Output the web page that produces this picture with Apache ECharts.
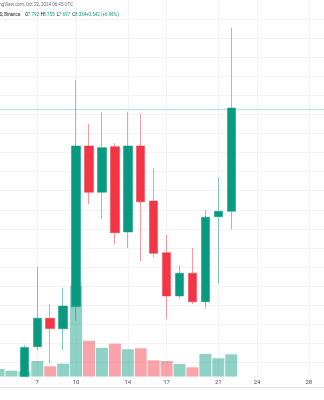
<!DOCTYPE html>
<html><head><meta charset="utf-8">
<script src="https://cdn.jsdelivr.net/npm/echarts@6/dist/echarts.min.js"></script>
<style>html,body{margin:0;padding:0;background:#fff;overflow:hidden}#c{position:absolute;left:-15px;top:0;width:350px;height:400px}</style>
</head><body><div id="c"></div>
<script>
// Days of October 2024 (3 and 23-30 are empty padding slots)
const days = ['3','4','5','6','7','8','9','10','11','12','13','14','15','16','17','18','19','20','21','22','23','24','25','26','27','28','29','30'];
const tickDays = ['7','10','14','17','21','24','28'];
// [open, close, low, high]
const ohlc = [
  '-',
  [6.62, 6.71, 6.55, 6.78],
  [6.71, 6.80, 6.66, 6.86],
  [6.80, 7.078, 6.77, 7.090],
  [7.082, 7.231, 7.064, 7.501],
  [7.231, 7.177, 6.995, 7.306],
  [7.176, 7.295, 7.064, 7.391],
  [7.292, 8.135, 7.218, 8.481],
  [8.135, 7.892, 7.830, 8.250],
  [7.892, 8.126, 7.753, 8.312],
  [8.131, 7.680, 7.620, 8.149],
  [7.684, 8.135, 7.600, 8.315],
  [8.135, 7.842, 7.530, 8.303],
  [7.846, 7.572, 7.551, 8.018],
  [7.575, 7.348, 7.226, 7.668],
  [7.348, 7.467, 7.334, 7.510],
  [7.467, 7.318, 7.306, 7.600],
  [7.318, 7.761, 7.281, 7.799],
  [7.764, 7.792, 7.411, 7.971],
  [7.792, 8.334, 7.697, 8.755],
  '-','-','-','-','-','-','-','-'
];
// volume (millions)
const volume = ['-', 1.54, 1.2, 1.04, 3.14, 2.08, 2.6, 18.2, 7.2, 5.74, 6.6, 5.48, 5.68, 3.28, 3.14, 2.54, 1.88, 4.54, 3.68, 4.48, '-','-','-','-','-','-','-','-'];
const lastClose = 8.334;
const headerLine1 = 'TradingView.com, Oct 22, 2024 06:45 UTC';
const headerSymbol = 'D, Binance';
const legendLabels = ['O','H','L','C'];
const legendValues = ['7.792','8.755','7.697','8.334'];
const legendChange = '+0.542 (+6.96%)';

const UP = '#089981', DOWN = '#F23645';
const volData = volume.map((v, i) => {
  if (v === '-') return '-';
  const c = ohlc[i];
  const up = c !== '-' && c[1] >= c[0];
  return { value: v, itemStyle: { color: up ? 'rgba(8,153,129,0.45)' : 'rgba(242,54,69,0.45)' } };
});

// pixel model: price 8.3 at y=114.5, 190.6 px per unit
const PXU = 190.6, Y83 = 114.5;
const paneTop = 0, paneBottom = 376.7;
const pMax = 8.3 + (Y83 - paneTop) / PXU;
const pMin = 8.3 - (paneBottom - Y83) / PXU;
const gridTopLines = Y83 - 0.6 * PXU;           // 8.9
const gridBotLines = Y83 + 1.4 * PXU;           // 6.9

const OFF = 15;          // canvas is shifted 15px left of the viewport
const W = 350;
const L = -14.42 + OFF, R = W - (334.69 + OFF);
const tickSet = new Set(tickDays);
const isTick = (idx, val) => tickSet.has(val);

const chart = echarts.init(document.getElementById('c'), null, { renderer: 'canvas' });
const fontFam = 'Roboto, "Noto Sans", sans-serif';
const FS = 4.5;

const graphics = [
  { type: 'rect', z: 50, shape: { x: 0, y: paneBottom, width: W, height: 400 - paneBottom }, style: { fill: '#ffffff' } },
  { type: 'line', z: 51, shape: { x1: 0, y1: 387.5, x2: W, y2: 387.5 }, style: { stroke: '#e6e8ee', lineWidth: 1 } },
  { type: 'text', z: 52, x: 73 + OFF, y: 5, style: { text: headerLine1, fill: '#6a6d78', fontSize: FS, fontFamily: fontFam, align: 'right', verticalAlign: 'middle' } },
  { type: 'text', z: 52, x: -0.5 + OFF, y: 15, style: { text: headerSymbol, fill: '#131722', fontSize: FS, fontFamily: fontFam, align: 'left', verticalAlign: 'middle' } }
];
const labelX = [25, 40.7, 56.7, 72.3];
const valueX = [27.8, 43.3, 58.8, 75];
legendLabels.forEach((lab, i) => {
  graphics.push({ type: 'text', z: 52, x: labelX[i] + OFF, y: 15, style: { text: lab, fill: '#131722', fontSize: FS, fontFamily: fontFam, align: 'left', verticalAlign: 'middle' } });
  graphics.push({ type: 'text', z: 52, x: valueX[i] + OFF, y: 15, style: { text: legendValues[i], fill: UP, fontSize: FS, fontFamily: fontFam, align: 'left', verticalAlign: 'middle' } });
});
graphics.push({ type: 'text', z: 52, x: 86 + OFF, y: 15, style: { text: legendChange, fill: UP, fontSize: FS, fontFamily: fontFam, align: 'left', verticalAlign: 'middle' } });

const hiddenAxis = { axisLine: { show: false }, axisTick: { show: false }, axisLabel: { show: false }, splitLine: { show: false } };

chart.setOption({
  animation: false,
  backgroundColor: '#ffffff',
  grid: [
    { left: L, right: R, top: paneTop, bottom: 400 - paneBottom },
    { left: L, right: R, top: paneBottom - 100, bottom: 400 - paneBottom },
    { left: L, right: R, top: gridTopLines, bottom: 400 - gridBotLines }
  ],
  xAxis: [
    Object.assign({}, hiddenAxis, { type: 'category', data: days, gridIndex: 0, boundaryGap: false,
      splitLine: { show: true, interval: isTick, lineStyle: { color: '#f2f3f5', width: 1 } } }),
    Object.assign({}, hiddenAxis, { type: 'category', data: days, gridIndex: 1, boundaryGap: false, z: 60,
      axisLabel: { show: true, interval: isTick, color: '#50535e', fontSize: 6, fontFamily: fontFam, margin: 2.5, verticalAlign: 'top' } }),
    Object.assign({}, hiddenAxis, { type: 'category', data: days, gridIndex: 2, boundaryGap: false })
  ],
  yAxis: [
    Object.assign({}, hiddenAxis, { type: 'value', gridIndex: 0, min: pMin, max: pMax, scale: true }),
    Object.assign({}, hiddenAxis, { type: 'value', gridIndex: 1, min: 0, max: 20 }),
    Object.assign({}, hiddenAxis, { type: 'value', gridIndex: 2, min: 6.9, max: 8.9, interval: 0.1,
      splitLine: { show: true, showMinLine: false, showMaxLine: false, lineStyle: { color: '#f2f3f5', width: 1 } } })
  ],
  graphic: { elements: graphics },
  series: [
    { type: 'bar', xAxisIndex: 1, yAxisIndex: 1, data: volData, barWidth: 12, z: 1, silent: true },
    { type: 'candlestick', xAxisIndex: 0, yAxisIndex: 0, data: ohlc, barWidth: 9, z: 3, clip: true,
      itemStyle: { color: UP, color0: DOWN, borderColor: 'rgba(8,153,129,0.5)', borderColor0: 'rgba(242,54,69,0.5)', borderWidth: 1 },
      markLine: { silent: true, symbol: ['none','none'], label: { show: false },
        lineStyle: { color: 'rgba(8,153,129,0.28)', type: 'solid', width: 1 },
        data: [{ yAxis: lastClose }] } }
  ]
});
</script></body></html>
